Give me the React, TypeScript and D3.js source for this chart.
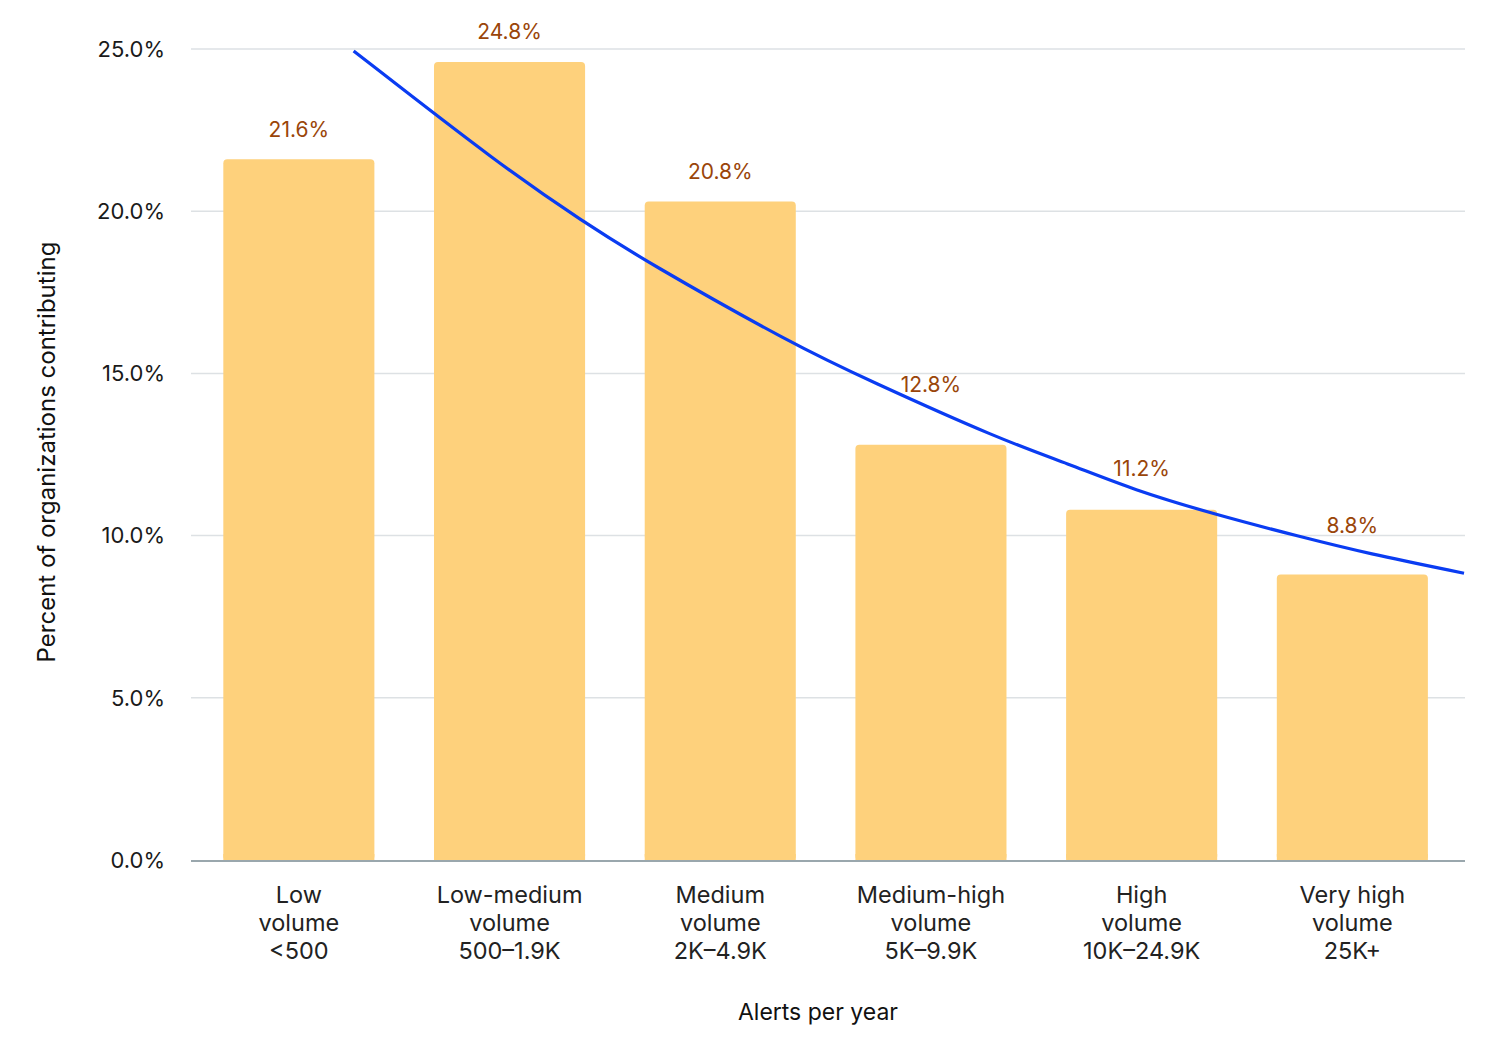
import * as d3 from "d3";
import * as React from "react";

// categories: three lines each
const categories = [
  ["Low", "volume", "<500"],
  ["Low-medium", "volume", "500–1.9K"],
  ["Medium", "volume", "2K–4.9K"],
  ["Medium-high", "volume", "5K–9.9K"],
  ["High", "volume", "10K–24.9K"],
  ["Very high", "volume", "25K+"],
];

// bar heights as drawn (percent)
const barValues = [21.6, 24.6, 20.3, 12.8, 10.8, 8.8];
// printed labels
const barLabels = ["21.6%", "24.8%", "20.8%", "12.8%", "11.2%", "8.8%"];

// trend line: position in category units, percent
const trendPos = [0.26, 0.96, 1.35, 1.65, 2.35, 2.7, 3.33, 3.65, 3.96, 4.36, 4.75, 5.07, 5.53];
const trendVal = [24.94, 21.4, 19.67, 18.44, 15.88, 14.8, 12.96, 12.22, 11.41, 10.63, 9.97, 9.45, 8.84];

const yTicks = [0, 5, 10, 15, 20, 25];

const W = 1494;
const H = 1044;
const FONT = "Inter, 'Noto Sans', sans-serif";

export default function App() {
  const x = d3
    .scaleBand<number>()
    .domain(d3.range(categories.length))
    .range([193.5, 1457.7])
    .paddingInner(0.283)
    .paddingOuter(0.1415);
  const y = d3.scaleLinear().domain([0, 25]).range([860, 49]);

  const center = (i: number) => (x(i) as number) + x.bandwidth() / 2;
  const xc = d3.scaleLinear().domain([0, 5]).range([center(0), center(5)]);

  const trend = trendPos.map((p, i) => [p, trendVal[i]] as [number, number]);
  const line = d3
    .line<[number, number]>()
    .x((d) => xc(d[0]))
    .y((d) => y(d[1]))
    .curve(d3.curveBasis);

  // trend value at a category centre, used to lift labels over the line
  const trendAt = d3.scaleLinear().domain(trendPos).range(trendVal);
  const labelY = (i: number) => {
    const top = y(barValues[i]) - 30;
    if (i < trendPos[0] || i > trendPos[trendPos.length - 1]) return top;
    return Math.min(top, y(trendAt(i)) - 24);
  };

  return (
    <svg
      width={W}
      height={H}
      style={{ position: "absolute", left: 0, top: 0, background: "#fff" }}
      fontFamily={FONT}
    >
      {/* grid */}
      {yTicks.slice(1).map((t) => (
        <line key={"g" + t} x1={191} x2={1465} y1={y(t)} y2={y(t)} stroke="#dde1e4" strokeWidth={1.5} />
      ))}
      {yTicks.map((t) => (
        <text
          key={"t" + t}
          x={165}
          y={y(t)}
          dy="0.35em"
          textAnchor="end"
          fontSize={22}
          fill="#1a1a1a"
        >
          {t.toFixed(1) + "%"}
        </text>
      ))}

      {/* bars */}
      {barValues.map((v, i) => (
        <rect
          key={"b" + i}
          x={x(i)}
          y={y(v)}
          width={x.bandwidth()}
          height={y(0) - y(v)}
          rx={4}
          fill="#fed17c"
        />
      ))}
      {barValues.map((v, i) => (
        <rect key={"bb" + i} x={x(i)} y={y(0) - 6} width={x.bandwidth()} height={6} fill="#fed17c" />
      ))}

      <line x1={191} x2={1465} y1={y(0) + 1} y2={y(0) + 1} stroke="#9aa7ad" strokeWidth={2} />

      <path d={line(trend) || ""} fill="none" stroke="#0a3cf2" strokeWidth={3.2} strokeLinecap="butt" />

      {barLabels.map((l, i) => (
        <text
          key={"l" + i}
          x={center(i)}
          y={labelY(i)}
          dy="0.35em"
          textAnchor="middle"
          fontSize={21}
          fill="#9a4509"
        >
          {l}
        </text>
      ))}

      {/* category labels */}
      {categories.map((c, i) => (
        <text key={"c" + i} x={center(i)} y={903} textAnchor="middle" fontSize={23.5} fill="#222">
          {c.map((s, j) => (
            <tspan key={j} x={center(i)} dy={j === 0 ? 0 : 28}>
              {s}
            </tspan>
          ))}
        </text>
      ))}

      <text x={818} y={1020} textAnchor="middle" fontSize={23} fill="#111">
        Alerts per year
      </text>
      <text
        transform={`translate(55,452) rotate(-90)`}
        textAnchor="middle"
        fontSize={24}
        fill="#111"
      >
        Percent of organizations contributing
      </text>
    </svg>
  );
}
